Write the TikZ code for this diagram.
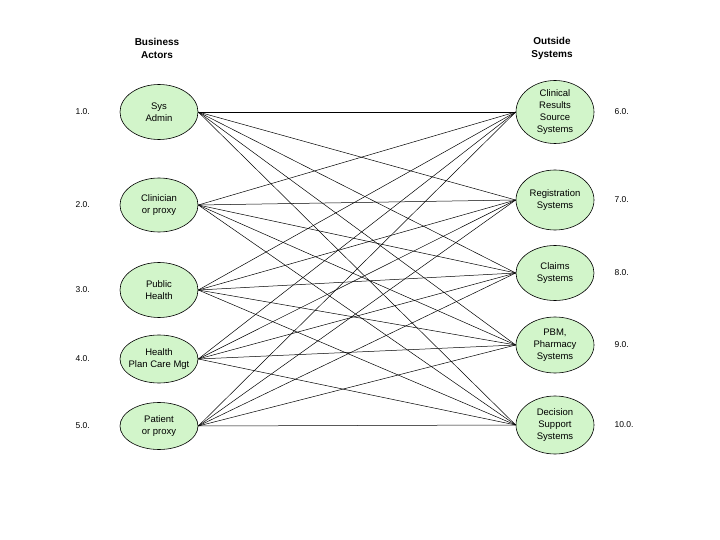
\documentclass[tikz,border=0pt]{standalone}
\usepackage{fontspec}
\setsansfont{Liberation Sans}
\usepackage{tikz}
\usetikzlibrary{positioning, shapes.geometric}
\definecolor{actfill}{HTML}{D2F5CA}

\begin{document}
\begin{tikzpicture}[x=1pt, y=-1pt,
    actor/.style={ellipse, draw=black, line width=0.6pt, fill=actfill,
                  minimum width=78pt, inner sep=0pt},
    inside/.style={font=\sffamily\fontsize{9.5}{12}\selectfont, align=center},
    num/.style={anchor=west, font=\sffamily\fontsize{8.5}{10}\selectfont},
    head/.style={font=\sffamily\bfseries\fontsize{10}{13}\selectfont, align=center}]
  \useasboundingbox (0,0) rectangle (720,540);

  % column headings
  \node[head] (hleft)  at (157,48) {Business\\Actors};
  \node[head] (hright) at (552,48) {Outside\\Systems};

  % business actors
  \foreach \i/\y/\h/\lbl in {%
      1/112/55/{Sys\\Admin}, 2/205/54/{Clinician\\or proxy},
      3/290/55/{Public\\Health}, 4/359/48/{Health\\Plan Care Mgt},
      5/426/47/{Patient\\or proxy}}
  {
    \node[actor, minimum height=\h pt] (n\i) at (159,\y) {};
    \node[inside] (t\i) at (n\i) {\lbl};
    \node[num] (l\i) at (72,\y) {\i.0.};
  }

  % outside systems
  \foreach \i/\y/\h/\lbl in {%
      6/112/63/{Clinical\\Results\\Source\\Systems},
      7/200/60/{Registration\\Systems},
      8/273/55/{Claims\\Systems},
      9/345/56/{PBM,\\Pharmacy\\Systems},
      10/425/58/{Decision\\Support\\Systems}}
  {
    \node[actor, minimum height=\h pt] (n\i) at (555,\y) {};
    \node[inside] (t\i) at (n\i) {\lbl};
    \node[num] (l\i) at (611,\y) {\i.0.};
  }

  % every actor talks to every system
  \foreach \i in {1,...,5}
    \foreach \j in {6,...,10}
      \draw[line width=0.5pt] (n\i.east) -- (n\j.west);
\end{tikzpicture}
\end{document}
